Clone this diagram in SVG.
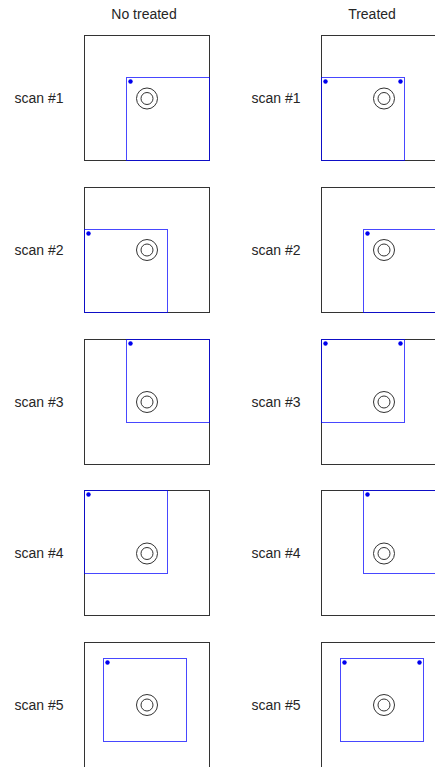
<svg xmlns="http://www.w3.org/2000/svg" width="435" height="767" viewBox="0 0 435 767">
<style>
.bg{fill:#ffffff}
.frame{fill:none;stroke:#333333;stroke-width:1}
.scan{fill:none;stroke:#0000ff;stroke-opacity:0.72;stroke-width:1}
.ring{fill:none;stroke:#333333;stroke-width:1}
.dot{fill:#0000ee}
.lbl{font-family:"Liberation Sans",Arial,sans-serif;font-size:14px;fill:#262626;text-anchor:middle}
</style>
<rect class="bg" x="0" y="0" width="435" height="767"/>
<g id="titles">
<text class="lbl" x="144" y="19">No treated</text>
<text class="lbl" x="372" y="19">Treated</text>
</g>
<g id="labels">
<text class="lbl" x="39" y="103">scan #1</text>
<text class="lbl" x="276" y="103">scan #1</text>
<text class="lbl" x="39" y="255">scan #2</text>
<text class="lbl" x="276" y="255">scan #2</text>
<text class="lbl" x="39" y="407">scan #3</text>
<text class="lbl" x="276" y="407">scan #3</text>
<text class="lbl" x="39" y="558">scan #4</text>
<text class="lbl" x="276" y="558">scan #4</text>
<text class="lbl" x="39" y="710">scan #5</text>
<text class="lbl" x="276" y="710">scan #5</text>
</g>
<g id="n1-untreated">
<rect class="frame" x="84.5" y="35.5" width="125" height="125"/>
<rect class="scan" x="126.5" y="77.5" width="83" height="83"/>
<circle class="ring" cx="147" cy="98.5" r="10.5"/><circle class="ring" cx="147" cy="98.5" r="6"/>
<circle class="dot" cx="130.5" cy="81.5" r="2.2"/>
</g>
<g id="n1-treated">
<rect class="frame" x="321.5" y="35.5" width="125" height="125"/>
<rect class="scan" x="321.5" y="77.5" width="83" height="83"/>
<circle class="ring" cx="384" cy="98.5" r="10.5"/><circle class="ring" cx="384" cy="98.5" r="6"/>
<circle class="dot" cx="325.5" cy="81.5" r="2.2"/><circle class="dot" cx="400.5" cy="81.5" r="2.2"/>
</g>
<g id="n2-untreated">
<rect class="frame" x="84.5" y="187.5" width="125" height="125"/>
<rect class="scan" x="84.5" y="229.5" width="83" height="83"/>
<circle class="ring" cx="147" cy="250" r="10.5"/><circle class="ring" cx="147" cy="250" r="6"/>
<circle class="dot" cx="88.5" cy="233.5" r="2.2"/>
</g>
<g id="n2-treated">
<rect class="frame" x="321.5" y="187.5" width="125" height="125"/>
<rect class="scan" x="363.5" y="229.5" width="83" height="83"/>
<circle class="ring" cx="384" cy="250" r="10.5"/><circle class="ring" cx="384" cy="250" r="6"/>
<circle class="dot" cx="367.5" cy="233.5" r="2.2"/>
</g>
<g id="n3-untreated">
<rect class="frame" x="84.5" y="339.5" width="125" height="125"/>
<rect class="scan" x="126.5" y="339.5" width="83" height="83"/>
<circle class="ring" cx="147" cy="402" r="10.5"/><circle class="ring" cx="147" cy="402" r="6"/>
<circle class="dot" cx="130.5" cy="343.5" r="2.2"/>
</g>
<g id="n3-treated">
<rect class="frame" x="321.5" y="339.5" width="125" height="125"/>
<rect class="scan" x="321.5" y="339.5" width="83" height="83"/>
<circle class="ring" cx="384" cy="402" r="10.5"/><circle class="ring" cx="384" cy="402" r="6"/>
<circle class="dot" cx="325.5" cy="343.5" r="2.2"/><circle class="dot" cx="400.5" cy="343.5" r="2.2"/>
</g>
<g id="n4-untreated">
<rect class="frame" x="84.5" y="490.5" width="125" height="125"/>
<rect class="scan" x="84.5" y="490.5" width="83" height="83"/>
<circle class="ring" cx="147" cy="553.5" r="10.5"/><circle class="ring" cx="147" cy="553.5" r="6"/>
<circle class="dot" cx="88.5" cy="494.5" r="2.2"/>
</g>
<g id="n4-treated">
<rect class="frame" x="321.5" y="490.5" width="125" height="125"/>
<rect class="scan" x="363.5" y="490.5" width="83" height="83"/>
<circle class="ring" cx="384" cy="553.5" r="10.5"/><circle class="ring" cx="384" cy="553.5" r="6"/>
<circle class="dot" cx="367.5" cy="494.5" r="2.2"/>
</g>
<g id="n5-untreated">
<rect class="frame" x="84.5" y="642.5" width="125" height="125"/>
<rect class="scan" x="103.5" y="658.5" width="83" height="83"/>
<circle class="ring" cx="147" cy="705" r="10.5"/><circle class="ring" cx="147" cy="705" r="6"/>
<circle class="dot" cx="107.5" cy="662.5" r="2.2"/>
</g>
<g id="n5-treated">
<rect class="frame" x="321.5" y="642.5" width="125" height="125"/>
<rect class="scan" x="340.5" y="658.5" width="83" height="83"/>
<circle class="ring" cx="384" cy="705" r="10.5"/><circle class="ring" cx="384" cy="705" r="6"/>
<circle class="dot" cx="344.5" cy="662.5" r="2.2"/><circle class="dot" cx="419.5" cy="662.5" r="2.2"/>
</g>
<g id="connectors"/>
</svg>
